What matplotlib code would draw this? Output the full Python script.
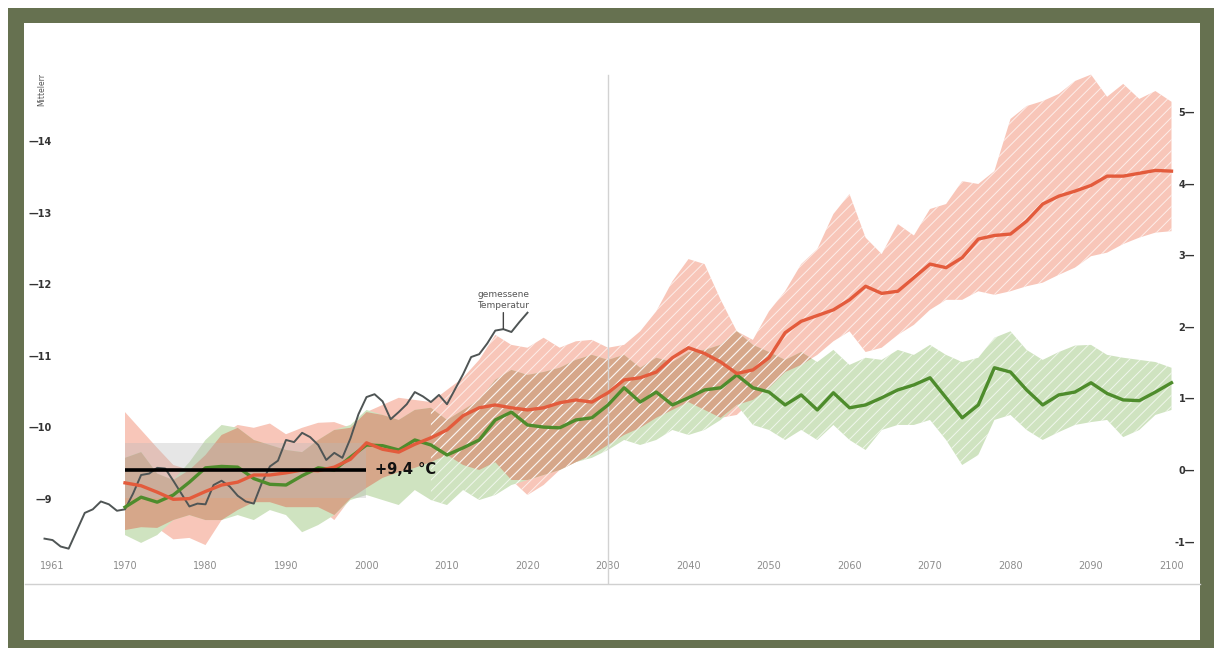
import numpy as np
import matplotlib
matplotlib.use("Agg")
import matplotlib.pyplot as plt
from matplotlib.patches import Rectangle

# ---------------- data ----------------
BASELINE = 9.4            # mean temperature 1970-2000 (°C), right axis = left axis - BASELINE
BASE_START, BASE_END = 1970, 2000
BOX_LOW, BOX_HIGH = -0.39, 0.38   # grey band around the baseline (anomaly)
HATCH_FROM = 2008

obs_years = list(range(1960, 2021))
obs_temp = [8.44, 8.42, 8.33, 8.30, 8.55, 8.80, 8.85, 8.96, 8.92, 8.83,
            8.85, 9.07, 9.33, 9.35, 9.43, 9.42, 9.25, 9.07, 8.89, 8.93,
            8.92, 9.19, 9.25, 9.17, 9.04, 8.96, 8.93, 9.22, 9.45, 9.53,
            9.82, 9.79, 9.92, 9.86, 9.75, 9.54, 9.64, 9.57, 9.84, 10.18,
            10.42, 10.46, 10.36, 10.11, 10.21, 10.32, 10.49, 10.43, 10.35, 10.45,
            10.32, 10.53, 10.74, 10.98, 11.02, 11.17, 11.35, 11.37, 11.33, 11.47,
            11.60]

model_years = list(range(1970, 2101, 2))

high_mean = [-0.18, -0.22, -0.31, -0.41, -0.40, -0.30, -0.21, -0.17, -0.07, -0.07,
             -0.04, 0.00, -0.01, 0.04, 0.15, 0.38, 0.29, 0.25, 0.36, 0.45,
             0.56, 0.76, 0.87, 0.91, 0.87, 0.84, 0.87, 0.94, 0.98, 0.95,
             1.08, 1.26, 1.29, 1.37, 1.57, 1.71, 1.63, 1.51, 1.35, 1.40,
             1.57, 1.92, 2.08, 2.16, 2.24, 2.38, 2.57, 2.47, 2.50, 2.69,
             2.88, 2.83, 2.97, 3.23, 3.28, 3.30, 3.48, 3.72, 3.83, 3.90,
             3.98, 4.11, 4.11, 4.15, 4.19, 4.18]
high_upper = [0.81, 0.56, 0.31, 0.07, 0.00, 0.21, 0.49, 0.63, 0.59, 0.65,
              0.50, 0.59, 0.66, 0.67, 0.59, 0.81, 0.91, 1.01, 0.98, 0.95,
              1.12, 1.29, 1.54, 1.89, 1.75, 1.71, 1.85, 1.71, 1.80, 1.82,
              1.71, 1.75, 1.94, 2.22, 2.64, 2.95, 2.88, 2.38, 1.94, 1.82,
              2.22, 2.50, 2.88, 3.09, 3.58, 3.86, 3.25, 3.02, 3.44, 3.28,
              3.65, 3.72, 4.04, 4.00, 4.18, 4.91, 5.09, 5.16, 5.26, 5.44,
              5.53, 5.22, 5.40, 5.19, 5.30, 5.15]
high_lower = [-0.84, -0.80, -0.81, -0.97, -0.95, -1.05, -0.70, -0.56, -0.45, -0.45,
              -0.52, -0.52, -0.52, -0.70, -0.40, -0.25, -0.11, -0.03, 0.03, 0.11,
              0.21, 0.07, 0.00, 0.11, -0.14, -0.35, -0.21, 0.00, 0.11, 0.21,
              0.35, 0.49, 0.59, 0.73, 0.84, 0.95, 0.84, 0.73, 0.77, 0.98,
              1.15, 1.37, 1.47, 1.61, 1.80, 1.94, 1.65, 1.71, 1.89, 2.03,
              2.24, 2.38, 2.38, 2.50, 2.45, 2.50, 2.57, 2.62, 2.73, 2.83,
              2.99, 3.04, 3.16, 3.25, 3.32, 3.34]

low_mean = [-0.52, -0.38, -0.45, -0.35, -0.17, 0.03, 0.05, 0.04, -0.12, -0.20,
            -0.21, -0.08, 0.03, 0.00, 0.18, 0.35, 0.34, 0.28, 0.42, 0.35,
            0.21, 0.31, 0.42, 0.70, 0.81, 0.63, 0.60, 0.59, 0.70, 0.73,
            0.91, 1.15, 0.95, 1.09, 0.91, 1.01, 1.12, 1.15, 1.33, 1.15,
            1.09, 0.91, 1.05, 0.84, 1.08, 0.87, 0.91, 1.01, 1.12, 1.19,
            1.29, 1.01, 0.73, 0.91, 1.43, 1.37, 1.12, 0.91, 1.05, 1.09,
            1.22, 1.07, 0.98, 0.97, 1.09, 1.22]
low_upper = [0.17, 0.25, -0.05, -0.14, 0.11, 0.42, 0.63, 0.59, 0.42, 0.35,
             0.28, 0.25, 0.42, 0.56, 0.63, 0.84, 0.77, 0.70, 0.84, 0.87,
             0.70, 0.84, 0.98, 1.26, 1.40, 1.33, 1.37, 1.43, 1.54, 1.61,
             1.54, 1.61, 1.43, 1.57, 1.51, 1.65, 1.68, 1.75, 1.94, 1.75,
             1.65, 1.54, 1.65, 1.51, 1.68, 1.47, 1.57, 1.54, 1.68, 1.61,
             1.75, 1.61, 1.51, 1.57, 1.85, 1.94, 1.68, 1.54, 1.65, 1.74,
             1.75, 1.61, 1.57, 1.54, 1.51, 1.43]
low_lower = [-0.91, -1.02, -0.91, -0.70, -0.63, -0.70, -0.70, -0.63, -0.70, -0.56,
             -0.63, -0.87, -0.77, -0.63, -0.42, -0.35, -0.42, -0.49, -0.28, -0.42,
             -0.49, -0.28, -0.42, -0.35, -0.21, -0.14, -0.07, 0.00, 0.11, 0.17,
             0.28, 0.42, 0.35, 0.42, 0.56, 0.49, 0.56, 0.70, 0.91, 0.63,
             0.56, 0.42, 0.56, 0.42, 0.63, 0.42, 0.28, 0.56, 0.63, 0.63,
             0.70, 0.42, 0.07, 0.21, 0.70, 0.77, 0.56, 0.42, 0.53, 0.63,
             0.67, 0.70, 0.46, 0.56, 0.77, 0.84]

xtick_years = [1961, 1970, 1980, 1990, 2000, 2010, 2020, 2030, 2040,
               2050, 2060, 2070, 2080, 2090, 2100]
xtick_labels = [str(y) for y in xtick_years]
left_ticks = [9, 10, 11, 12, 13, 14]
right_ticks = [-1, 0, 1, 2, 3, 4, 5]
ANNOT_YEAR = 2017
baseline_label = "+9,4 °C"
axis_label = "Mittelerr"
annot_text = "gemessene\nTemperatur"

# ---------------- style ----------------
OLIVE = "#667150"
RED_BAND = "#f8c6b9"
GREEN_BAND = "#cfe3c0"
OVERLAP = "#d6a78a"
RED_LINE = "#e35b3c"
GREEN_LINE = "#4e8c2c"
OBS_LINE = "#4f5555"
HATCH_COL = "#ffffffb0"

plt.rcParams["font.family"] = ["DejaVu Sans"]
plt.rcParams["hatch.color"] = HATCH_COL
plt.rcParams["hatch.linewidth"] = 0.7

W, H = 1214, 648
fig = plt.figure(figsize=(W / 100, H / 100), dpi=100)
fig.patch.set_facecolor("white")
fig.patches.append(Rectangle((8 / W, 0), 1 - 8 / W, 1 - 8 / H, transform=fig.transFigure,
                             facecolor=OLIVE, edgecolor="none", zorder=-20))
fig.patches.append(Rectangle((24 / W, 8 / H), 1176 / W, 617 / H, transform=fig.transFigure,
                             facecolor="white", edgecolor="none", zorder=-19))

ax = fig.add_axes([25 / W, 64 / H, 1175 / W, 524 / H])
ax.set_facecolor("none")

yrs = np.array(model_years)
r_lo, r_hi = np.array(high_lower), np.array(high_upper)
g_lo, g_hi = np.array(low_lower), np.array(low_upper)

ax.fill_between(yrs, r_lo, r_hi, facecolor=RED_BAND, linewidth=0, zorder=1)
ax.fill_between(yrs, g_lo, g_hi, facecolor=GREEN_BAND, linewidth=0, zorder=1.1)
ov_lo = np.maximum(r_lo, g_lo)
ov_hi = np.minimum(r_hi, g_hi)
ax.fill_between(yrs, ov_lo, ov_hi, where=ov_hi > ov_lo, interpolate=True,
                facecolor=OVERLAP, linewidth=0, zorder=1.2)

# white diagonal hatching on the projection part of the bands
late = yrs >= HATCH_FROM
for lo, hi in ((r_lo, r_hi), (g_lo, g_hi)):
    ax.fill_between(yrs, lo, hi, where=late, facecolor="none", edgecolor=HATCH_COL,
                    linewidth=0, hatch="///", zorder=1.3)

# baseline grey box
ax.add_patch(Rectangle((BASE_START, BOX_LOW), BASE_END - BASE_START, BOX_HIGH - BOX_LOW,
                       facecolor="#b9b9b9", alpha=0.35, edgecolor="none", zorder=1.5))

# 2030 vertical line
ax.axvline(2030, ymin=0, ymax=(584 - 75) / 524, color="#d2d2d2", lw=1, zorder=1.6)

obs_anom = np.array(obs_temp) - BASELINE
ax.plot(obs_years, obs_anom, color=OBS_LINE, lw=1.4, zorder=3)
ax.plot(yrs, low_mean, color=GREEN_LINE, lw=2.4, zorder=4)
ax.plot(yrs, high_mean, color=RED_LINE, lw=2.4, zorder=5)

ax.plot([BASE_START, BASE_END], [0, 0], color="black", lw=2.6, zorder=6,
        solid_capstyle="butt")
ax.text(BASE_END + 1.1, 0, baseline_label, fontsize=10.5, fontweight="bold",
        color="#111111", va="center", ha="left", zorder=7)

obs_at = obs_anom[obs_years.index(ANNOT_YEAR)]
ax.annotate(annot_text, xy=(ANNOT_YEAR, obs_at), xytext=(ANNOT_YEAR, obs_at + 0.27),
            textcoords="data", ha="center", va="bottom", fontsize=6.5,
            color="#555555", linespacing=1.25,
            arrowprops=dict(arrowstyle="-", color="#444444", lw=1.0,
                            shrinkA=0, shrinkB=0), zorder=7)

ax.text((42 - 25) / 1175, (584 - 73) / 524, axis_label, transform=ax.transAxes,
        rotation=90, fontsize=5.5, color="#555555", ha="center", va="top")

# axes limits & ticks
ax.set_xlim(1970 - 100 / 8.05, 1970 + 1075 / 8.05)
ax.set_ylim((470 - 584) / 71.5, (470 - 60) / 71.5)

ax.set_xticks(xtick_years)
ax.set_xticklabels(xtick_labels)
ax.tick_params(axis="x", length=0, pad=-16.5, labelsize=7, labelcolor="#8c8c8c")

ax.yaxis.tick_right()
ax.set_yticks(right_ticks)
ax.set_yticklabels([f"{v}\u2014" for v in right_ticks])
ax.tick_params(axis="y", length=0, pad=-3.6, labelsize=7, labelcolor="#333333",
               labelright=True, labelleft=False)
for lbl in ax.get_yticklabels():
    lbl.set_horizontalalignment("right")
    lbl.set_fontweight("bold")

sec = ax.secondary_yaxis("left", functions=(lambda a: a + BASELINE, lambda t: t - BASELINE))
sec.set_yticks(left_ticks)
sec.set_yticklabels([f"\u2014{t}" for t in left_ticks])
sec.tick_params(length=0, pad=-19.4, labelsize=7, labelcolor="#333333")
for lbl in sec.get_yticklabels():
    lbl.set_fontweight("bold")
for s in sec.spines.values():
    s.set_visible(False)

for side in ["top", "left", "right"]:
    ax.spines[side].set_visible(False)
ax.spines["bottom"].set_color("#d0d0d0")
ax.spines["bottom"].set_linewidth(1)

fig.savefig("out.png", dpi=100, facecolor=fig.get_facecolor())
